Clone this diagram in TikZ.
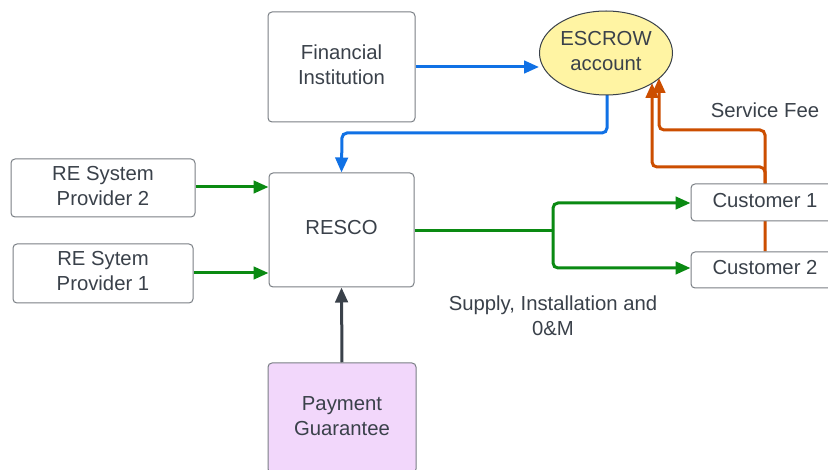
\documentclass[tikz,border=0pt]{standalone}
\usepackage{fontspec}
\setmainfont{Liberation Sans}
\usetikzlibrary{arrows.meta,shapes.geometric,backgrounds}
\definecolor{txt}{HTML}{3A414A}
\definecolor{edge}{HTML}{7A7F85}
\definecolor{flowblue}{HTML}{1071E5}
\definecolor{flowgreen}{HTML}{0A8A12}
\definecolor{floworange}{HTML}{CC4E00}
\definecolor{escrowfill}{HTML}{FFF4A3}
\definecolor{guaranteefill}{HTML}{F2D7FB}
% centred lines with a fixed 25pt pitch
\newcommand{\lines}[1]{\raisebox{1pt}{\begin{tabular}{@{}c@{}}#1\end{tabular}}}
\tikzset{
  box/.style={draw=edge, line width=1pt, rounded corners=4pt, fill=white,
    text=txt, inner sep=0pt, font=\fontsize{20.3}{25}\selectfont},
  oval/.style={ellipse, draw=txt, line width=1pt, fill=escrowfill,
    text=txt, inner sep=0pt, font=\fontsize{20.3}{25}\selectfont},
  lbl/.style={text=txt, inner sep=0pt, font=\fontsize{20.3}{25}\selectfont},
  tip/.style={-{Triangle[length=15pt,width=12.5pt]}},
  flow/.style={tip, line width=3pt, rounded corners=5pt},
}
\begin{document}
\begin{tikzpicture}[x=1pt,y=-1pt]
\clip (0,0) rectangle (828,470);

% boxes
\node[box, minimum width=147pt, minimum height=110pt] (fin) at (341.5,67) {\lines{Financial\\Institution}};
\node[oval, minimum width=133pt, minimum height=84pt] (esc) at (606,53) {\lines{ESCROW\\account}};
\node[box, minimum width=145pt, minimum height=114pt] (resco) at (341.5,230) {\lines{RESCO}};
\node[box, minimum width=184pt, minimum height=58pt] (re2) at (103,188) {\lines{RE System\\Provider 2}};
\node[box, minimum width=180pt, minimum height=59pt] (re1) at (103,273.5) {\lines{RE Sytem\\Provider 1}};
\node[box, fill=guaranteefill, minimum width=148pt, minimum height=110pt] (pay) at (342,418) {\lines{Payment\\Guarantee}};
\node[box, minimum width=148pt, minimum height=37pt] (c1) at (765,202.5) {\lines{Customer 1}};
\node[box, minimum width=148pt, minimum height=36pt] (c2) at (765,270) {\lines{Customer 2}};

% labels
\node[lbl] (fee) at (765,113) {\lines{Service Fee}};
\node[lbl] (sup) at (553,318) {\lines{Supply, Installation and\\0\&M}};

\begin{scope}[on background layer]
\fill[white] (0,0) rectangle (828,470);

% financing flows
\draw[flow, flowblue] (fin.east |- 0,67) -- (esc.west |- 0,67);
\draw[flow, flowblue] (607,95) -- (607,133) -- (342,133) -- (resco.north);

% supply into RESCO
\draw[flow, flowgreen] (re2.east |- 0,187) -- (resco.west |- 0,187);
\draw[flow, flowgreen] (re1.east |- 0,273) -- (resco.west |- 0,273);

% supply out to customers
\coordinate (split) at (553,231);
\draw[line width=3pt, flowgreen] (resco.east |- split) -- (split);
\draw[flow, flowgreen] (split) -- (553,203) -- (c1.west |- 0,203);
\draw[flow, flowgreen] (split) -- (553,268) -- (c2.west |- 0,268);

% payment guarantee
\draw[tip, line width=3pt, txt] (pay.north) -- (resco.south);

% service fees
\draw[flow, floworange] (c1.north) -- (765,130) -- (659,130) -- (659,78);
\draw[flow, floworange] (c2.north) -- (765,167) -- (652,167) -- (652,83);
\end{scope}
\end{tikzpicture}
\end{document}
